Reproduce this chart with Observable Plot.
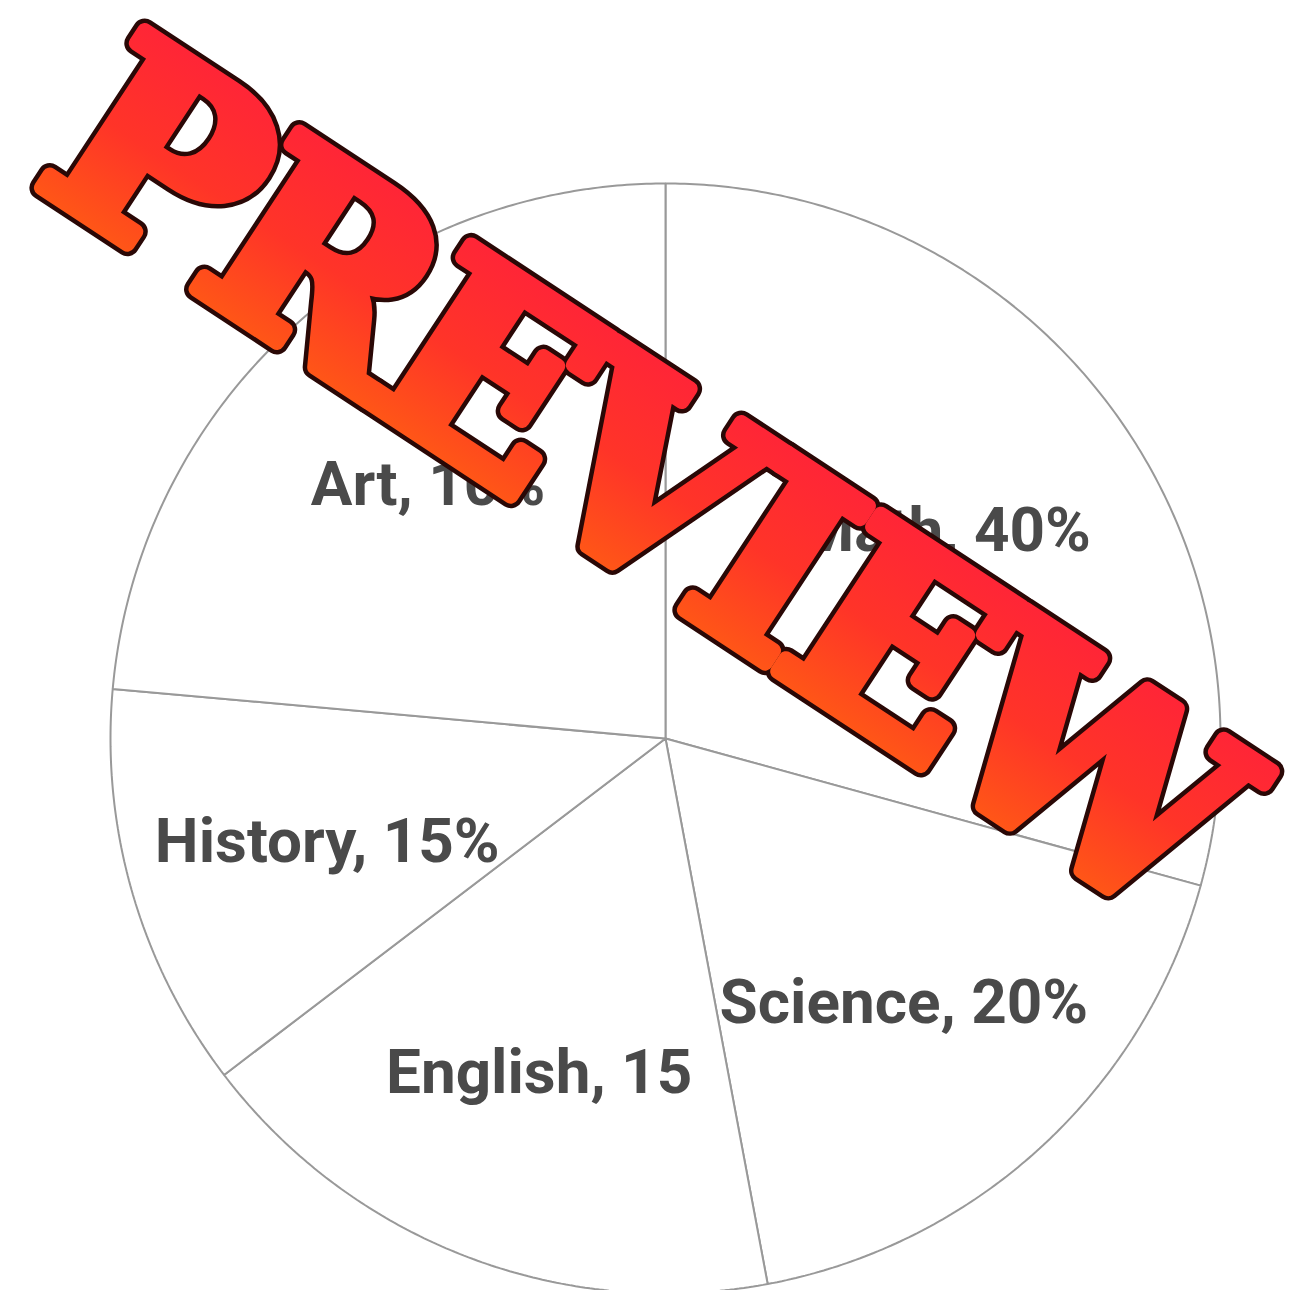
<!DOCTYPE html>
<html>
<head>
<meta charset="utf-8">
<script src="https://cdn.jsdelivr.net/npm/d3@7"></script>
<script src="https://cdn.jsdelivr.net/npm/@observablehq/plot@0.6"></script>
<style>
  html, body { margin: 0; padding: 0; background: #fff; }
  #chart svg { display: block; }
</style>
</head>
<body>
<div id="chart"></div>
<script>
// ---- data ----
const subjects = ["Math", "Science", "English", "History", "Art"];
// slice sizes as drawn (share of the circle, %)
const drawnShares = [29.3, 17.8, 17.6, 11.8, 23.6];
// label text as printed on the chart
const labelTexts = ["Math, 40%", "Science, 20%", "English, 15", "History, 15%", "Art, 10%"];
const watermark = "PREVIEW";

// ---- layout ----
const W = 1292, H = 1290;
const cx = 665, cy = 738, R = 555, labelR = 352, labelDy = 6;

const rows = subjects.map((s, i) => ({subject: s, value: drawnShares[i], label: labelTexts[i]}));
const arcs = d3.pie().sort(null).value(d => d.value)(rows);

const polar = (a, r) => [cx + r * Math.sin(a), cy - r * Math.cos(a)];

// polygon outline of every slice, sampled along its arc
const slicePts = [];
arcs.forEach(a => {
  const n = Math.max(2, Math.ceil((a.endAngle - a.startAngle) / (Math.PI / 360)));
  slicePts.push({subject: a.data.subject, x: cx, y: cy});
  for (let k = 0; k <= n; k++) {
    const t = a.startAngle + (a.endAngle - a.startAngle) * k / n;
    const [x, y] = polar(t, R);
    slicePts.push({subject: a.data.subject, x, y});
  }
  slicePts.push({subject: a.data.subject, x: cx, y: cy});
});

const labelPts = arcs.map(a => {
  const m = (a.startAngle + a.endAngle) / 2;
  const [x, y] = polar(m, labelR);
  return {label: a.data.label, x, y: y + labelDy};
});

const defsMark = () => {
  const ns = "http://www.w3.org/2000/svg";
  const defs = document.createElementNS(ns, "defs");
  defs.innerHTML = `<linearGradient id="wmGrad" x1="0" y1="0" x2="0" y2="1">
      <stop offset="0" stop-color="#ff1f3d"/>
      <stop offset="0.5" stop-color="#ff3428"/>
      <stop offset="1" stop-color="#ff680e"/>
    </linearGradient>`;
  return defs;
};

const wmOpts = {
  x: () => 640, y: () => 482, text: d => d,
  rotate: 33.3, fontSize: 258, fontWeight: 900,
  fontFamily: "'DejaVu Serif', serif"
};

const chart = Plot.plot({
  width: W,
  height: H,
  margin: 0,
  x: {type: "identity"},
  y: {type: "identity"},
  axis: null,
  marks: [
    defsMark,
    Plot.line(slicePts, {
      x: "x", y: "y", z: "subject",
      fill: "white", stroke: "#999999", strokeWidth: 2, strokeLinejoin: "miter", curve: "linear"
    }),
    Plot.text(labelPts, {
      x: "x", y: "y", text: "label",
      fontSize: 62, fontWeight: 700, fill: "#4a4a4a",
      fontFamily: "Roboto, 'DejaVu Sans', sans-serif"
    }),
    // watermark: dark outline pass, then the fat gradient letters
    Plot.text([watermark], {...wmOpts, fill: "#2a0806", stroke: "#2a0806", strokeWidth: 24, className: "wm"}),
    Plot.text([watermark], {...wmOpts, fill: "url(#wmGrad)", stroke: "url(#wmGrad)", strokeWidth: 15, className: "wm"})
  ]
});

chart.querySelectorAll(".wm text").forEach(t => {
  t.setAttribute("letter-spacing", "-9");
  t.setAttribute("stroke-linejoin", "round");
});
document.getElementById("chart").appendChild(chart);
</script>
</body>
</html>
